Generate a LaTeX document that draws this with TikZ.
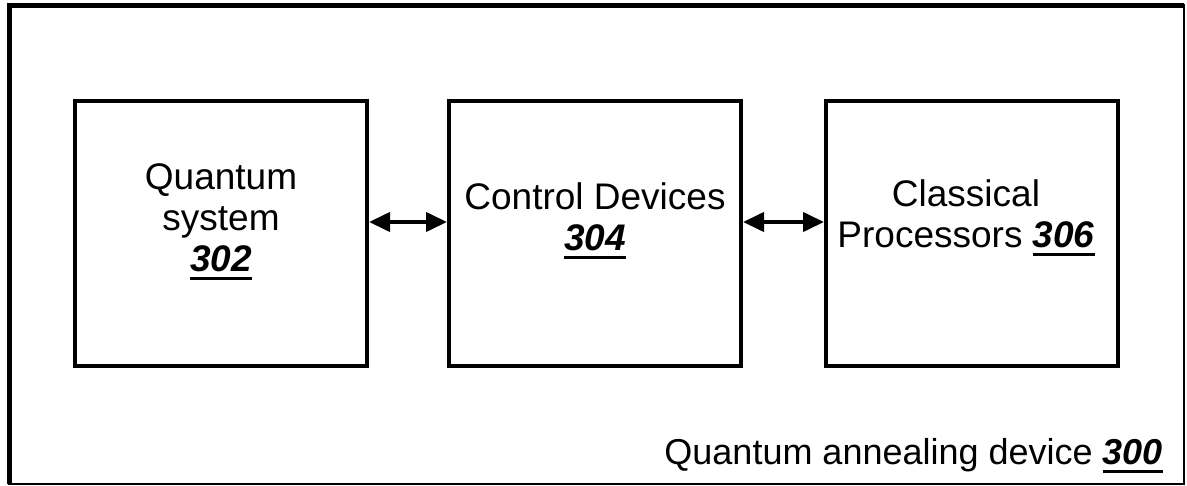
\documentclass[tikz,border=0pt]{standalone}
\usepackage{fontspec}
\setmainfont{Liberation Sans}
\usetikzlibrary{arrows.meta,calc}
\newcommand\refnum[1]{\setbox0\hbox{\bfseries\itshape #1}\rlap{\rule[-9pt]{\wd0}{3.5pt}}\box0}
\begin{document}
\begin{tikzpicture}[x=1pt,y=-1pt,
  box/.style={draw,line width=4pt,minimum width=292pt,minimum height=265pt,inner sep=0pt},
  lbl/.style={font=\fontsize{37pt}{41pt}\selectfont,align=center,anchor=base,inner sep=0pt},
  biarrow/.style={line width=4pt,{Triangle[length=21pt,width=19pt]}-{Triangle[length=21pt,width=19pt]}}]
\useasboundingbox (0,0) rectangle (1187,485);
\draw[line width=2.5pt] (9,5.5) rectangle (1184,484);
\draw[line width=5pt] (9,484) -- (9,5.5) -- (1184,5.5);
\node[box] (qs) at (221,233.5) {};
\node[box] (cd) at (595,233.5) {};
\node[box] (cp) at (972,233.5) {};
\draw[biarrow] ($(qs.east)+(0,-11.5)$) -- ($(cd.west)+(0,-11.5)$);
\draw[biarrow] ($(cd.east)+(0,-11.5)$) -- ($(cp.west)+(0,-11.5)$);
\node[lbl] (t1) at (221,271) {Quantum\\system\\\refnum{302}};
\node[lbl] (t2) at (595,250) {Control Devices\\\refnum{304}};
\node[lbl] (t3) at (966,247) {Classical\\Processors \refnum{306}};
\node[lbl,font=\fontsize{36pt}{41pt}\selectfont,anchor=base east] (t4) at (1163,464) {Quantum annealing device \refnum{300}};
\end{tikzpicture}
\end{document}
